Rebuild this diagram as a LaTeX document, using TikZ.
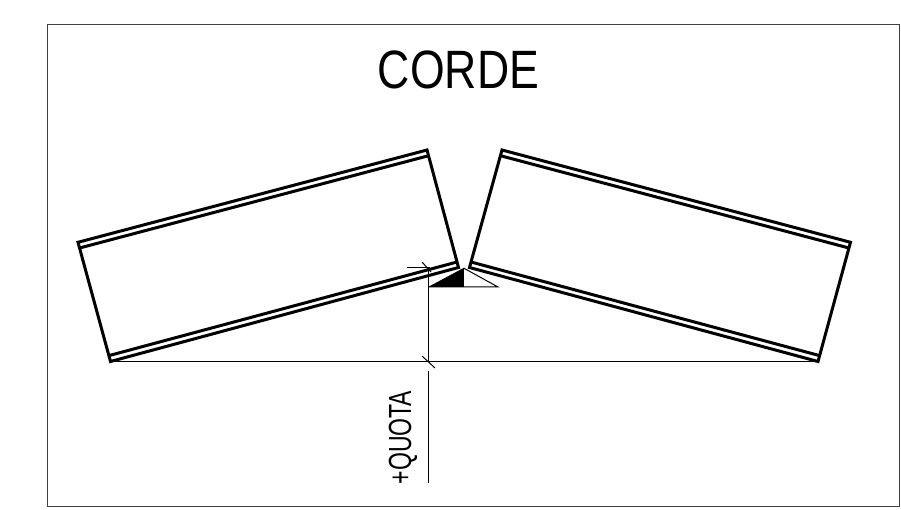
\documentclass[tikz,border=0pt]{standalone}
\usepackage{fontspec}
\setmainfont{Liberation Sans}
\tikzset{
  heavy/.style={line width=3pt,line join=miter,black},
  thin line/.style={line width=1pt,black},
  frameline/.style={line width=1.2pt,black!75},
  lbl/.style={inner sep=0pt,outer sep=0pt,text=black}
}
\begin{document}
\begin{tikzpicture}[x=1pt,y=-1pt]
\useasboundingbox (0,0) rectangle (901,510);
% frame
\draw[frameline] (47.5,24.5) rectangle (899.5,506.5);
% named points
\coordinate (LTL) at (78,242.3);
\coordinate (LTR) at (427,150);
\coordinate (LBR) at (458.5,267.5);
\coordinate (LBL) at (110.5,361.5);
\coordinate (RTL) at (502,150);
\coordinate (RTR) at (850.5,242.3);
\coordinate (RBR) at (818,361.5);
\coordinate (RBL) at (469.5,267.5);
% left block
\draw[heavy] (LTL) -- (LTR) -- (LBR) -- (LBL) -- cycle;
\draw[heavy] (79.6,248) -- (428.6,155.7);
\draw[heavy] (109,355.6) -- (457,262);
% right block
\draw[heavy] (RTL) -- (RTR) -- (RBR) -- (RBL) -- cycle;
\draw[heavy] (500.4,155.7) -- (848.9,248);
\draw[heavy] (471,262) -- (819.5,355.6);
% baseline & dimension
\draw[thin line] (LBL) -- (RBR);
\draw[thin line] (407,268) -- (430,268);
\draw[thin line] (422,262) -- (431,272);
\draw[thin line] (428,268) -- (428,362);
\draw[thin line] (422,356) -- (435,368);
\draw[thin line] (428,371) -- (428,483);
% triangle
\coordinate (TA) at (463.5,268);
\coordinate (TL) at (428,287);
\coordinate (TR) at (498,287);
\coordinate (TM) at (463.5,287);
\fill[black] (TA) -- (TL) -- (TM) -- cycle;
\draw[thin line] (TA) -- (TR) -- (TL);
\draw[thin line] (TA) -- (TM);
% texts
\node[lbl,xscale=0.826] (title) at (458.5,69.5) {\fontsize{54}{54}\selectfont CORDE};
\node[lbl,rotate=90,xscale=0.72] (quota) at (403,437.5) {\fontsize{32}{32}\selectfont +QUOTA};
\end{tikzpicture}
\end{document}
